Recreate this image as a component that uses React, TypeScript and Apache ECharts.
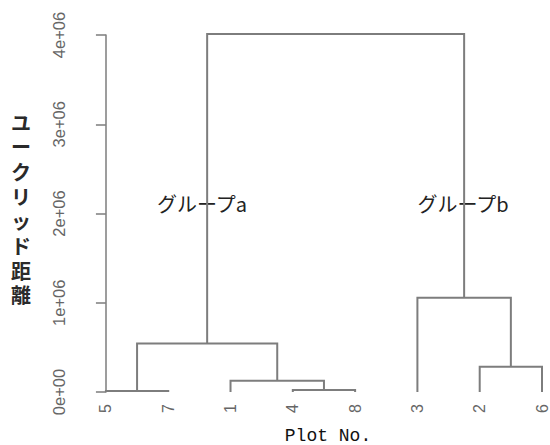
import React, { useEffect, useRef } from "react";
import * as echarts from "echarts";

// Leaf order along the x axis
const leafOrder = ["5", "7", "1", "4", "8", "3", "2", "6"];
const leafPositions = [0, 1, 2, 3, 4, 5, 6, 7];
// Merge steps (left child, right child, height); "mK" = result of K-th merge
const mergeA = ["5", "4", "1", "2", "m1", "3", "m5"];
const mergeB = ["7", "8", "m2", "6", "m3", "m4", "m6"];
const mergeHeights = [11000, 22000, 127000, 283000, 543000, 1057000, 4010000];
// Y axis ticks
const yTickValues = [0, 1e6, 2e6, 3e6, 4e6];
const yTickLabels = ["0e+00", "1e+06", "2e+06", "3e+06", "4e+06"];
// Texts
const groupLabels = ["グループa", "グループb"];
const yTitle = "ユークリッド距離";
const xTitle = "Plot No.";

function buildSegments(): number[][] {
  const pos: Record<string, [number, number]> = {};
  leafOrder.forEach((l, i) => {
    pos[l] = [leafPositions[i], 0];
  });
  const segs: number[][] = [];
  mergeA.forEach((a, k) => {
    const b = mergeB[k];
    const h = mergeHeights[k];
    const pa = pos[a];
    const pb = pos[b];
    segs.push([pa[0], pa[1], pb[0], pb[1], h]);
    pos["m" + (k + 1)] = [(pa[0] + pb[0]) / 2, h];
  });
  return segs;
}

const LINE = "#7d7d7d";

export default function App() {
  const ref = useRef<HTMLDivElement>(null);
  useEffect(() => {
    if (!ref.current) return;
    const chart = echarts.init(ref.current, undefined, { renderer: "svg" });
    const segs = buildSegments();
    const titleChars = yTitle.split("").map((c, i) => ({
      type: "text",
      style: {
        text: c,
        x: 21,
        y: 122 + i * 24.7,
        align: "center",
        verticalAlign: "middle",
        fontSize: 20,
        fontWeight: "bold",
        fontFamily: "Noto Sans CJK JP",
        fill: "#2a2a2a",
      },
    }));
    chart.setOption({
      animation: false,
      backgroundColor: "#ffffff",
      grid: { left: 88, right: 6, top: 35, bottom: 53 },
      xAxis: {
        type: "value",
        min: -0.2877,
        max: 7,
        axisLine: { show: false },
        axisTick: { show: false },
        splitLine: { show: false },
        axisLabel: {
          customValues: leafPositions,
          rotate: 90,
          margin: 12,
          fontSize: 16,
          color: "#666666",
          fontFamily: "Liberation Sans",
          formatter: (v: number) => {
            const i = leafPositions.indexOf(Math.round(v));
            return i >= 0 ? leafOrder[i] : "";
          },
        },
      },
      yAxis: {
        type: "value",
        min: 0,
        max: 4e6,
        interval: 1e6,
        splitLine: { show: false },
        axisLine: { show: true, lineStyle: { color: LINE, width: 1.5 } },
        axisTick: { show: true, length: 10, lineStyle: { color: LINE, width: 1.5 } },
        axisLabel: {
          rotate: 90,
          margin: 21,
          fontSize: 16.5,
          color: "#666666",
          fontFamily: "Liberation Sans",
          formatter: (v: number) => {
            const i = yTickValues.indexOf(v);
            return i >= 0 ? yTickLabels[i] : "";
          },
        },
      },
      series: [
        {
          type: "custom",
          data: segs,
          dimensions: ["xl", "yl", "xr", "yr", "h"],
          encode: { x: [0, 2], y: [1, 3, 4] },
          renderItem: (params: any, api: any) => {
            const xl = api.value(0);
            const yl = api.value(1);
            const xr = api.value(2);
            const yr = api.value(3);
            const h = api.value(4);
            const p1 = api.coord([xl, yl]);
            const p2 = api.coord([xl, h]);
            const p3 = api.coord([xr, h]);
            const p4 = api.coord([xr, yr]);
            return {
              type: "polyline",
              shape: { points: [p1, p2, p3, p4] },
              style: { stroke: LINE, lineWidth: 2, fill: null },
            };
          },
        },
      ],
      graphic: [
        ...titleChars,
        {
          type: "text",
          style: {
            text: xTitle,
            x: 328,
            y: 436,
            align: "center",
            verticalAlign: "middle",
            fontSize: 18,
            fontFamily: "Liberation Mono",
            fill: "#111111",
          },
        },
        {
          type: "text",
          style: {
            text: groupLabels[0],
            x: 202,
            y: 203,
            align: "center",
            verticalAlign: "middle",
            fontSize: 20,
            fontFamily: "Noto Sans CJK JP",
            fill: "#222222",
          },
        },
        {
          type: "text",
          style: {
            text: groupLabels[1],
            x: 463,
            y: 203,
            align: "center",
            verticalAlign: "middle",
            fontSize: 20,
            fontFamily: "Noto Sans CJK JP",
            fill: "#222222",
          },
        },
      ],
    });
    return () => chart.dispose();
  }, []);
  return (
    <div
      ref={ref}
      style={{ position: "fixed", left: 0, top: 0, width: 550, height: 445 }}
    />
  );
}
